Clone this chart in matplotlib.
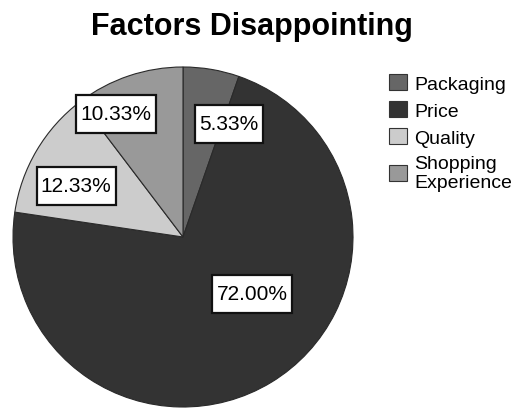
import matplotlib
matplotlib.use("Agg")
import matplotlib.pyplot as plt
from matplotlib.path import Path

plt.rcParams['font.family'] = ['Liberation Sans', 'DejaVu Sans']

categories = ["Packaging", "Price", "Quality", "Shopping\nExperience"]
shares = [5.33, 72.00, 12.33, 10.33]
colors = ["#666666", "#333333", "#cccccc", "#999999"]
# label placement (x, y) in pie units relative to the centre
label_xy = [(0.271, 0.665), (0.406, -0.335), (-0.629, 0.300), (-0.394, 0.724)]


def label_box(x0, y0, width, height, mutation_size, padx=0.2, pady=0.45):
    """Square box with more room above and below the text than at the sides."""
    px, py = padx * mutation_size, pady * mutation_size
    x0, y0 = x0 - px, y0 - py
    x1, y1 = x0 + width + 2 * px, y0 + height + 2 * py
    return Path([(x0, y0), (x1, y0), (x1, y1), (x0, y1), (x0, y0)], closed=True)


fig = plt.figure(figsize=(5.23, 4.10), dpi=100)
ax = fig.add_axes([13 / 523, 2 / 410, 340 / 523, 340 / 410])

wedges, _ = ax.pie(shares, colors=colors, startangle=90, counterclock=False,
                   wedgeprops=dict(edgecolor="#2a2a2a", linewidth=0.8))
ax.set_xlim(-1, 1)
ax.set_ylim(-1, 1)
ax.set_aspect("equal")

for v, (x, y) in zip(shares, label_xy):
    ax.text(x, y, f"{v:.2f}%", ha="center", va="center", fontsize=15,
            bbox=dict(boxstyle=label_box, fc="white", ec="#111111", lw=1.6))

fig.text(252 / 523, 1 - 27 / 410, "Factors Disappointing", ha="center",
         va="center", fontsize=22, fontweight="bold")

fig.legend(wedges, categories, loc="upper left", bbox_to_anchor=(389 / 523, 1 - 75 / 410),
           frameon=False, fontsize=14, handlelength=0.9, handleheight=0.9,
           handletextpad=0.4, labelspacing=0.42, borderpad=0, borderaxespad=0)
for h in fig.legends[0].legend_handles:
    h.set_edgecolor("#333333")

fig.savefig("out.png", dpi=100)
